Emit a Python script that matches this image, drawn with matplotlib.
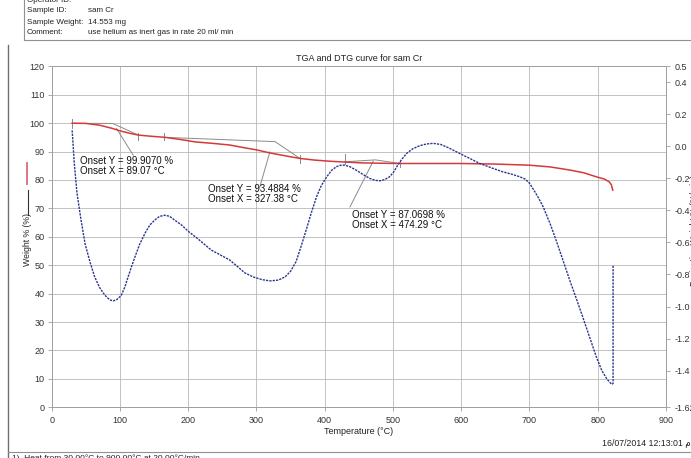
import matplotlib.pyplot as plt
from matplotlib.lines import Line2D

plt.rcParams['font.family'] = ['Liberation Sans', 'DejaVu Sans']

# TGA weight loss curve (temperature in degC, weight %)
tga_temp = [30, 50, 70, 88, 100, 115, 127, 145, 166, 190, 210, 235, 261, 283, 300,
            320, 340, 363, 385, 407, 430, 456, 505, 540, 598, 650, 700, 730, 759,
            780, 798, 810, 817, 820, 822]
tga_weight = [100.0, 99.9, 99.3, 98.2, 97.3, 96.4, 95.8, 95.4, 95.0, 94.2, 93.4, 92.9,
              92.3, 91.3, 90.6, 89.5, 88.6, 87.6, 87.0, 86.6, 86.3, 86.0, 85.8, 85.8,
              85.8, 85.6, 85.2, 84.6, 83.5, 82.5, 81.1, 80.3, 79.3, 78.3, 76.4]

# DTG derivative curve (%/min)
dtg_temp = [30, 33, 37, 43, 49, 56, 63, 70, 78, 85, 90, 96, 102, 107, 112, 117, 122,
            129, 137, 144, 151, 158, 166, 173, 180, 190, 200, 215, 234, 248, 261, 272,
            283, 295, 308, 320, 332, 342, 350, 358, 365, 373, 380, 388, 395, 403, 410,
            417, 423, 429, 437, 446, 456, 466, 474, 481, 488, 495, 501, 507, 513, 520,
            529, 539, 549, 559, 570, 581, 593, 610, 627, 645, 661, 675, 686, 694, 700,
            706, 713, 720, 730, 739, 749, 759, 769, 778, 788, 798, 806, 813, 818, 821,
            822.5, 822.5]
dtg_value = [0.10, -0.10, -0.29, -0.46, -0.61, -0.72, -0.815, -0.88, -0.93, -0.958,
             -0.965, -0.955, -0.93, -0.88, -0.815, -0.75, -0.69, -0.61, -0.54, -0.49,
             -0.46, -0.437, -0.43, -0.437, -0.46, -0.49, -0.53, -0.58, -0.648, -0.68,
             -0.71, -0.75, -0.79, -0.815, -0.832, -0.84, -0.835, -0.815, -0.78, -0.72,
             -0.63, -0.52, -0.42, -0.315, -0.245, -0.19, -0.15, -0.127, -0.118, -0.117,
             -0.127, -0.148, -0.175, -0.20, -0.212, -0.215, -0.207, -0.19, -0.16,
             -0.117, -0.08, -0.044, -0.015, 0.004, 0.015, 0.019, 0.012, -0.008, -0.034,
             -0.07, -0.106, -0.135, -0.159, -0.175, -0.19, -0.205, -0.23, -0.27, -0.32,
             -0.377, -0.48, -0.586, -0.71, -0.836, -0.955, -1.065, -1.19, -1.315, -1.40,
             -1.45, -1.475, -1.486, -1.48, -0.74]

# onset construction lines: (baseline start, onset point, tangent end)
onsets = [
    ((30, 99.907), (89.07, 99.907), (127, 95.8)),
    ((166, 95.0), (327.38, 93.4884), (363.5, 87.6)),
    ((429, 86.4), (474.29, 87.0698), (510, 85.8)),
]
onset_ticks = [(30, 98.3, 101.6), (127, 94.1, 96.6), (164, 94.1, 96.6),
               (363.5, 85.8, 88.7), (429, 85.5, 89.0), (510, 84.5, 86.6)]
onset_leaders = [((95, 98.1), (119.5, 88.7)),
                 ((319.7, 89.9), (305, 77.6)),
                 ((471, 86.6), (437, 70.5))]
onset_labels = ['Onset Y = 99.9070 %\nOnset X = 89.07 °C',
                'Onset Y = 93.4884 %\nOnset X = 327.38 °C',
                'Onset Y = 87.0698 %\nOnset X = 474.29 °C']
onset_label_pos = [(41.5, 88.5), (229, 78.6), (439.7, 69.4)]

x_ticks = list(range(0, 1000, 100))
y_ticks = list(range(0, 130, 10))
dtg_ticks = [0.5, 0.4, 0.2, 0.0, -0.2, -0.4, -0.6, -0.8, -1.0, -1.2, -1.4, -1.629]

fig = plt.figure(figsize=(6.91, 4.58), dpi=100)
ax = fig.add_axes([0.0748, 0.1108, 0.8890, 0.7444])

grid_c = '#b8b8b8'
for s in ax.spines.values():
    s.set_color('#a0a0a0')
    s.set_linewidth(0.7)
ax.grid(True, color=grid_c, lw=0.6)
ax.set_axisbelow(True)
ax.set_xlim(0, 900)
ax.set_ylim(0, 120)
ax.set_xticks(x_ticks)
ax.set_yticks(y_ticks)
ax.tick_params(labelsize=6.5, colors='#333333', length=3, width=0.5, color='#888888')
ax.tick_params(axis='y', pad=2)
ax.set_xlabel('Temperature (°C)', fontsize=6.5, labelpad=1, color='#222222')
ax.set_title('TGA and DTG curve for sam Cr', fontsize=6.5, pad=4, color='#222222')

# construction lines for the onsets
gray = '#8a8a8a'
for (p0, p1, p2) in onsets:
    ax.plot([p0[0], p1[0], p2[0]], [p0[1], p1[1], p2[1]], color=gray, lw=0.7, zorder=3)
for t, y0, y1 in onset_ticks:
    ax.plot([t, t], [y0, y1], color=gray, lw=0.7, zorder=3)
for (a, b) in onset_leaders:
    ax.plot([a[0], b[0]], [a[1], b[1]], color=gray, lw=0.7, zorder=3)
for txt, (tx, ty) in zip(onset_labels, onset_label_pos):
    ax.text(tx, ty, txt, fontsize=7, va='top', ha='left', linespacing=1.05,
            color='#111111', zorder=4)

ax.plot(tga_temp, tga_weight, color='#d43a3a', lw=1.1, zorder=5)

ax2 = ax.twinx()
ax2.set_ylim(-1.629, 0.5)
ax2.set_yticks(dtg_ticks)
ax2.set_yticklabels(['0.5', '0.4', '0.2', '0.0', '-0.2', '-0.4', '-0.6', '-0.8',
                     '-1.0', '-1.2', '-1.4', '-1.629'])
ax2.tick_params(labelsize=6.5, colors='#333333', length=3, width=0.5, color='#888888')
for s in ax2.spines.values():
    s.set_color('#a0a0a0')
    s.set_linewidth(0.7)
ax2.plot(dtg_temp, dtg_value, color='#2a3590', lw=1.0, ls=(0, (1.6, 0.8)), zorder=5)

# axis labels with their line-style keys
fig.text(0.040, (458 - 240) / 458, 'Weight % (%)', rotation=90, fontsize=6.3,
         ha='center', va='center', color='#222222')
fig.add_artist(Line2D([0.041, 0.041], [(458 - 190) / 458, (458 - 215) / 458],
                      color='#333333', lw=0.8, transform=fig.transFigure))
fig.add_artist(Line2D([0.039, 0.039], [(458 - 163) / 458, (458 - 184) / 458],
                      color='#d86a78', lw=1.3, transform=fig.transFigure))
fig.text(690 / 691, (458 - 230) / 458, 'Derivative Weight % (%/min)', rotation=90,
         fontsize=6.3, ha='left', va='center', color='#222222')

# report header
hdr = [('Operator ID:', '', 0), ('Sample ID:', 'sam Cr', 11),
       ('Sample Weight:', '14.553 mg', 22), ('Comment:', 'use helium as inert gas in rate 20 ml/ min', 33)]
for k, v, yp in hdr:
    fig.text(27 / 691, 1 - yp / 458, k, fontsize=5.8, va='center', ha='left', color='#222222')
    fig.text(88 / 691, 1 - yp / 458, v, fontsize=5.8, va='center', ha='left', color='#222222')
fig.add_artist(Line2D([24 / 691, 1], [1 - 40 / 458] * 2, color='#909090', lw=0.8,
                      transform=fig.transFigure))
fig.add_artist(Line2D([24 / 691] * 2, [1, 1 - 40 / 458], color='#909090', lw=0.8,
                      transform=fig.transFigure))

# page frame and footer
fig.add_artist(Line2D([8 / 691] * 2, [1 - 45 / 458, 0], color='#707070', lw=1.0,
                      transform=fig.transFigure))
fig.add_artist(Line2D([8 / 691, 1], [1 - 452 / 458] * 2, color='#909090', lw=0.8,
                      transform=fig.transFigure))
fig.text(1.0, 1 - 444 / 458, '16/07/2014 12:13:01 م', fontsize=6.3, ha='right',
         va='center', color='#222222')
fig.text(12 / 691, 1 - 458 / 458, '1)  Heat from 30.00°C to 900.00°C at 20.00°C/min',
         fontsize=6, ha='left', va='center', color='#222222')

fig.savefig('out.png', dpi=100)
